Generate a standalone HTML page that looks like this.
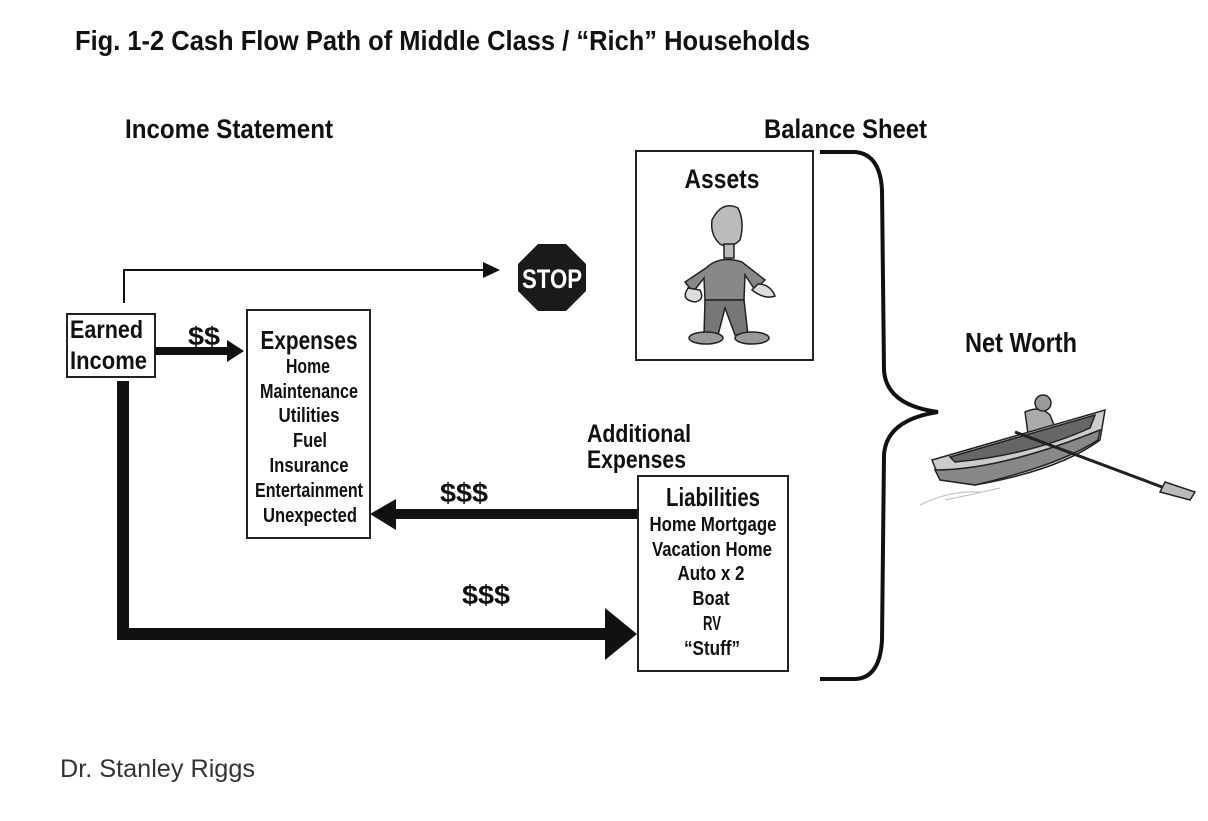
<!DOCTYPE html>
<html><head><meta charset="utf-8"><style>
html,body{margin:0;padding:0;background:#fff;width:1208px;height:821px;overflow:hidden}
svg{display:block}
.c{font-family:"Liberation Sans Narrow","Liberation Sans",sans-serif;font-weight:bold;fill:#111}
</style></head><body>
<svg width="1208" height="821" viewBox="0 0 1208 821" xmlns="http://www.w3.org/2000/svg">
<text class="c" x="75" y="50" font-size="28" textLength="735" lengthAdjust="spacingAndGlyphs">Fig. 1-2 Cash Flow Path of Middle Class / “Rich” Households</text>
<text class="c" x="125" y="138" font-size="27" textLength="208" lengthAdjust="spacingAndGlyphs">Income Statement</text>
<text class="c" x="764" y="138" font-size="27" textLength="163" lengthAdjust="spacingAndGlyphs">Balance Sheet</text>

<polyline points="124,303 124,270 485,270" fill="none" stroke="#111" stroke-width="2"/>
<polygon points="483,262 500,270 483,278" fill="#111"/>
<polygon points="538,244 566,244 586,264 586,291 566,311 538,311 518,291 518,264" fill="#1a1a1a"/>
<text x="552" y="288" text-anchor="middle" font-family="Liberation Sans,sans-serif" font-weight="bold" font-size="27" fill="#fff" textLength="60" lengthAdjust="spacingAndGlyphs">STOP</text>

<rect x="67" y="314" width="88" height="63" fill="#fff" stroke="#222" stroke-width="2"/>
<text class="c" x="70" y="338" font-size="25" textLength="73" lengthAdjust="spacingAndGlyphs">Earned</text>
<text class="c" x="70" y="369" font-size="25" textLength="77" lengthAdjust="spacingAndGlyphs">Income</text>

<rect x="155" y="347" width="76" height="8" fill="#111"/>
<polygon points="227,340 244,351 227,362" fill="#111"/>
<text class="c" x="188" y="345" font-size="26" textLength="32" lengthAdjust="spacingAndGlyphs">$$</text>

<rect x="247" y="310" width="123" height="228" fill="#fff" stroke="#222" stroke-width="2"/>
<g class="c" text-anchor="middle">
<text x="309" y="349" font-size="26" textLength="97" lengthAdjust="spacingAndGlyphs">Expenses</text>
<text x="308" y="373" font-size="20" textLength="44" lengthAdjust="spacingAndGlyphs">Home</text>
<text x="309" y="398" font-size="20" textLength="98" lengthAdjust="spacingAndGlyphs">Maintenance</text>
<text x="309" y="422" font-size="20" textLength="61" lengthAdjust="spacingAndGlyphs">Utilities</text>
<text x="310" y="447" font-size="20" textLength="34" lengthAdjust="spacingAndGlyphs">Fuel</text>
<text x="309" y="472" font-size="20" textLength="79" lengthAdjust="spacingAndGlyphs">Insurance</text>
<text x="309" y="497" font-size="20" textLength="108" lengthAdjust="spacingAndGlyphs">Entertainment</text>
<text x="310" y="522" font-size="20" textLength="94" lengthAdjust="spacingAndGlyphs">Unexpected</text>
</g>

<rect x="392" y="509" width="246" height="10" fill="#111"/>
<polygon points="396,499 370,514 396,530" fill="#111"/>
<text class="c" x="440" y="502" font-size="27" textLength="48" lengthAdjust="spacingAndGlyphs">$$$</text>

<polyline points="123,381 123,634 610,634" fill="none" stroke="#111" stroke-width="12"/>
<polygon points="605,608 637,634 605,660" fill="#111"/>
<text class="c" x="462" y="604" font-size="27" textLength="48" lengthAdjust="spacingAndGlyphs">$$$</text>

<rect x="636" y="151" width="177" height="209" fill="#fff" stroke="#222" stroke-width="2"/>
<text class="c" x="722" y="188" font-size="27" text-anchor="middle" textLength="75" lengthAdjust="spacingAndGlyphs">Assets</text>
<g stroke="#222" stroke-width="1.5">
<path d="M712,220 Q722,200 738,208 Q745,222 740,240 Q730,250 720,244 Q710,235 712,220Z" fill="#bbb"/>
<path d="M706,268 Q720,255 742,262 L765,280 L755,290 L745,275 L744,300 L705,300 L704,278 L693,292 L685,282Z" fill="#888"/>
<path d="M705,300 L744,300 L748,335 L735,335 L725,308 L718,335 L704,335Z" fill="#777"/>
<ellipse cx="706" cy="338" rx="17" ry="6" fill="#999"/>
<ellipse cx="752" cy="338" rx="17" ry="6" fill="#999"/>
<path d="M688,288 Q680,300 695,302 Q705,300 700,290Z" fill="#ddd"/>
<path d="M752,290 Q765,300 775,296 Q770,284 758,284Z" fill="#ddd"/>
<rect x="724" y="244" width="10" height="14" fill="#bbb"/>
</g>

<text class="c" x="587" y="442" font-size="25" textLength="104" lengthAdjust="spacingAndGlyphs">Additional</text>
<text class="c" x="587" y="468" font-size="25" textLength="99" lengthAdjust="spacingAndGlyphs">Expenses</text>

<rect x="638" y="476" width="150" height="195" fill="#fff" stroke="#222" stroke-width="2"/>
<g class="c" text-anchor="middle">
<text x="713" y="506" font-size="26" textLength="94" lengthAdjust="spacingAndGlyphs">Liabilities</text>
<text x="713" y="531" font-size="20" textLength="127" lengthAdjust="spacingAndGlyphs">Home Mortgage</text>
<text x="712" y="556" font-size="20" textLength="120" lengthAdjust="spacingAndGlyphs">Vacation Home</text>
<text x="711" y="580" font-size="20" textLength="67" lengthAdjust="spacingAndGlyphs">Auto x 2</text>
<text x="711" y="605" font-size="20" textLength="37" lengthAdjust="spacingAndGlyphs">Boat</text>
<text x="712" y="630" font-size="20" textLength="18" lengthAdjust="spacingAndGlyphs">RV</text>
<text x="712" y="655" font-size="20" textLength="56" lengthAdjust="spacingAndGlyphs">“Stuff”</text>
</g>

<path d="M820,152 L855,152 Q880,154 882,190 L884,370 Q886,405 938,412 Q886,420 884,455 L882,640 Q880,678 855,679 L820,679" fill="none" stroke="#111" stroke-width="4"/>

<text class="c" x="965" y="352" font-size="28" textLength="112" lengthAdjust="spacingAndGlyphs">Net Worth</text>

<g stroke="#222" stroke-width="1.5">
<path d="M1025,412 Q1040,405 1050,415 L1060,440 L1030,448 Z" fill="#aaa"/>
<circle cx="1043" cy="403" r="8" fill="#999"/>
<path d="M932,460 L1105,410 L1100,440 Q1060,470 975,485 L940,480Z" fill="#ccc"/>
<path d="M935,470 Q1000,470 1100,430 L1098,440 Q1060,465 975,485 L940,480Z" fill="#888"/>
<path d="M950,457 L1095,415 L1090,428 Q1030,455 955,462Z" fill="#666"/>
<line x1="1015" y1="432" x2="1170" y2="490" stroke-width="3"/>
<path d="M1165,482 L1195,492 L1190,500 L1160,492Z" fill="#bbb"/>
</g>
<path d="M920,505 Q950,490 980,492 M945,500 Q970,495 1000,488" fill="none" stroke="#bbb" stroke-width="1"/>

<text x="60" y="777" font-family="Liberation Sans,sans-serif" font-size="25" fill="#333" textLength="195" lengthAdjust="spacingAndGlyphs">Dr. Stanley Riggs</text>
</svg>
</body></html>
